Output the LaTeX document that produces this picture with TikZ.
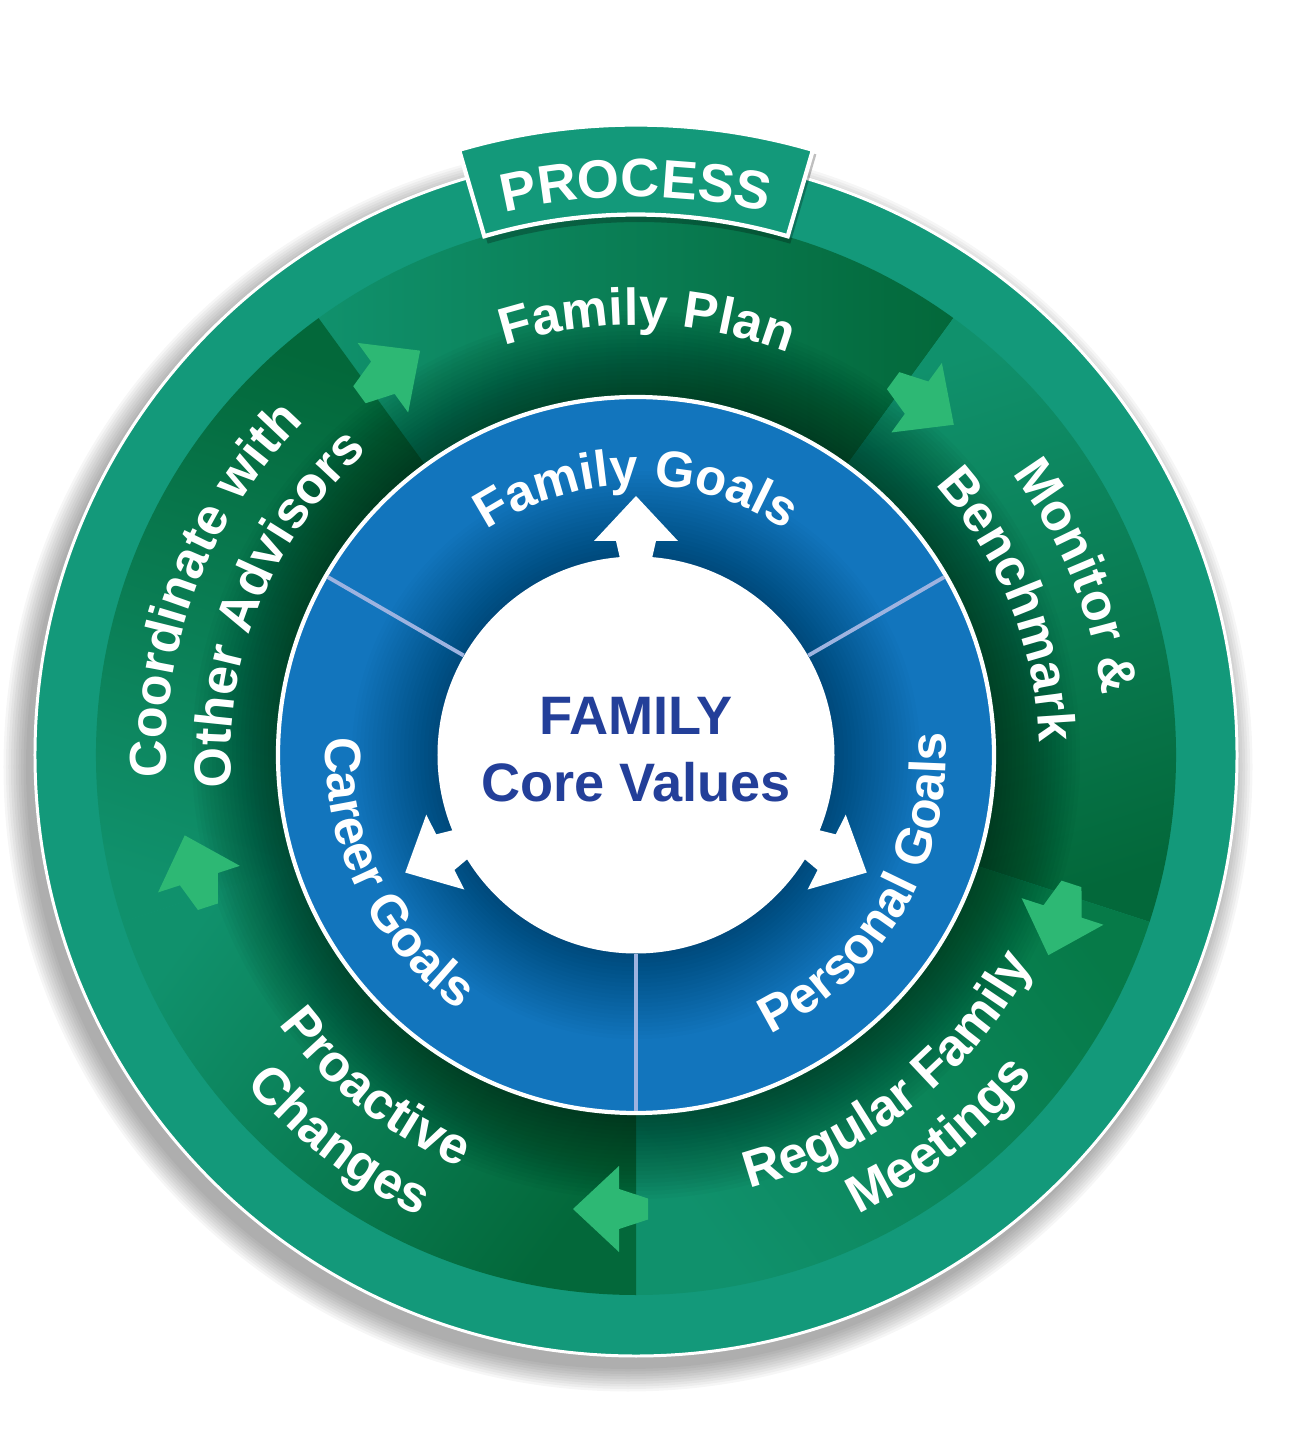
\documentclass[tikz,border=0pt]{standalone}
\usepackage{fontspec}
\setmainfont{Liberation Sans}
\usepackage{tikz}
\usetikzlibrary{decorations.text}

\definecolor{vertext}{HTML}{13997A}
\definecolor{vertclair}{HTML}{10916C}
\definecolor{vertmoyen}{HTML}{067A48}
\definecolor{vertfonce}{HTML}{03683A}
\definecolor{vertfleche}{HTML}{2DB874}
\definecolor{bleuanneau}{HTML}{1275BD}
\definecolor{bleutexte}{HTML}{233F99}
\definecolor{bleutrait}{HTML}{9DB3E0}

\newcommand{\gfont}{\bfseries\fontsize{14.8}{17}\selectfont}
\newcommand{\bfont}{\bfseries\fontsize{14.5}{17}\selectfont}
\newcommand{\pfont}{\bfseries\fontsize{15.4}{18}\selectfont}

\begin{document}
\begin{tikzpicture}[
  arctxt/.style={decorate, decoration={text along path, text align=center, text color=white, text={#1}}},
  coretxt/.style={font=\bfseries\fontsize{15.4}{19}\selectfont, text=bleutexte, inner sep=0pt},
  divline/.style={bleutrait, line width=1.1pt}]
  \useasboundingbox (-6.36,-6.92) rectangle (6.61,7.55);
  \fill[white] (-6.36,-6.92) rectangle (6.61,7.55);
  \coordinate (C) at (0,0);
  % Ombre
  \foreach \k in {0,...,9}
    \fill[black, opacity=0.035] (-0.08,-0.12) circle ({6.02+0.025*\k});
  % Anneau extérieur
  \fill[vertext] (C) circle (6.01);
  \draw[white, line width=0.85pt] (C) circle (6.01);
  % Segments du processus
  \foreach \a/\b/\cs/\ce in {126/54/vertclair/vertfonce, 54/-18/vertclair/vertfonce,
      -18/-90/vertmoyen/vertclair, 270/198/vertfonce/vertclair, 198/126/vertclair/vertfonce}{
    \pgfmathsetmacro{\ang}{(\a+\b)/2-180}
    \shade[bottom color=\cs, top color=\ce, shading angle=\ang]
      (\a:3.58) arc[start angle=\a, end angle=\b, radius=3.58]
      -- (\b:5.40) arc[start angle=\b, end angle=\a, radius=5.40] -- cycle;
  }
  \foreach \r in {3.60,3.64,...,4.44}
    \fill[black, opacity=0.025] (C) circle (\r);
  % Flèches vertes
  \foreach \b in {126,54,-18,270,198}
    \fill[vertfleche, rotate=\b-90] (-0.12,4.435) -- (0.17,4.34) -- (0.17,4.11) -- (0.63,4.54)
      -- (0.17,4.97) -- (0.17,4.74) -- (-0.12,4.645) -- cycle;
  % Bandeau PROCESS
  \begin{scope}[shift={(0.03,-0.06)}]
    \fill[black, opacity=0.25] (106.3:5.39) arc[start angle=106.3, end angle=73.7, radius=5.39]
      -- (73.7:6.32) arc[start angle=73.7, end angle=106.3, radius=6.32] -- cycle;
  \end{scope}
  \filldraw[fill=vertext, draw=white, line width=1.2pt]
    (106.3:5.405) arc[start angle=106.3, end angle=73.7, radius=5.405]
    -- (73.7:6.305) arc[start angle=73.7, end angle=106.3, radius=6.305] -- cycle;
  \path[arctxt={|\pfont|PROCESS}] (120:5.58) arc[start angle=120, end angle=60, radius=5.58];
  % Anneau bleu
  \fill[bleuanneau] (C) circle (3.58);
  \draw[white, line width=1.2pt] (C) circle (3.58);
  \foreach \r in {2.00,2.04,...,2.84}
    \fill[black, opacity=0.017] (C) circle (\r);
  \foreach \a in {30,150,270}
    \draw[divline] (\a:1.99) -- (\a:3.56);
  % Flèches blanches
  \foreach \t in {0,117,243}
    \fill[white, rotate=\t] (-0.145,1.90) -- (-0.20,2.14) -- (-0.42,2.14) -- (0,2.59)
      -- (0.42,2.14) -- (0.20,2.14) -- (0.145,1.90) -- cycle;
  % Cercle central
  \fill[white] (C) circle (1.985);
  \node[coretxt, anchor=base] (fam) at (0,0.20) {FAMILY};
  \node[coretxt, anchor=base] (vals) at (0,-0.47) {Core Values};
  % Textes bleus
  \path[arctxt={|\bfont|Family Goals}] (150:2.70) arc[start angle=150, end angle=30, radius=2.70];
  \path[arctxt={|\bfont|Career Goals}] (150:3.10) arc[start angle=150, end angle=262, radius=3.10];
  \path[arctxt={|\bfont|Personal Goals}] (-86:3.10) arc[start angle=-86, end angle=26, radius=3.10];
  % Textes verts
  \path[arctxt={|\gfont|Family Plan}] (150:4.30) arc[start angle=150, end angle=27, radius=4.30];
  \path[arctxt={|\gfont|Monitor {\&}}] (82:4.70) arc[start angle=82, end angle=-38, radius=4.70];
  \path[arctxt={|\gfont|Benchmark}] (82:4.03) arc[start angle=82, end angle=-38, radius=4.03];
  \path[arctxt={|\gfont|Regular Family}] (-111.5:4.48) arc[start angle=-111.5, end angle=8.5, radius=4.48];
  \path[arctxt={|\gfont|Meetings}] (-111.5:5.10) arc[start angle=-111.5, end angle=8.5, radius=5.10];
  \path[arctxt={|\gfont|Proactive}] (172:4.48) arc[start angle=172, end angle=292, radius=4.48];
  \path[arctxt={|\gfont|Changes}] (172.5:5.10) arc[start angle=172.5, end angle=292.5, radius=5.10];
  \path[arctxt={|\gfont|Coordinate with}] (218.8:4.70) arc[start angle=218.8, end angle=98.8, radius=4.70];
  \path[arctxt={|\gfont|Other Advisors}] (218:4.05) arc[start angle=218, end angle=98, radius=4.05];
\end{tikzpicture}
\end{document}
